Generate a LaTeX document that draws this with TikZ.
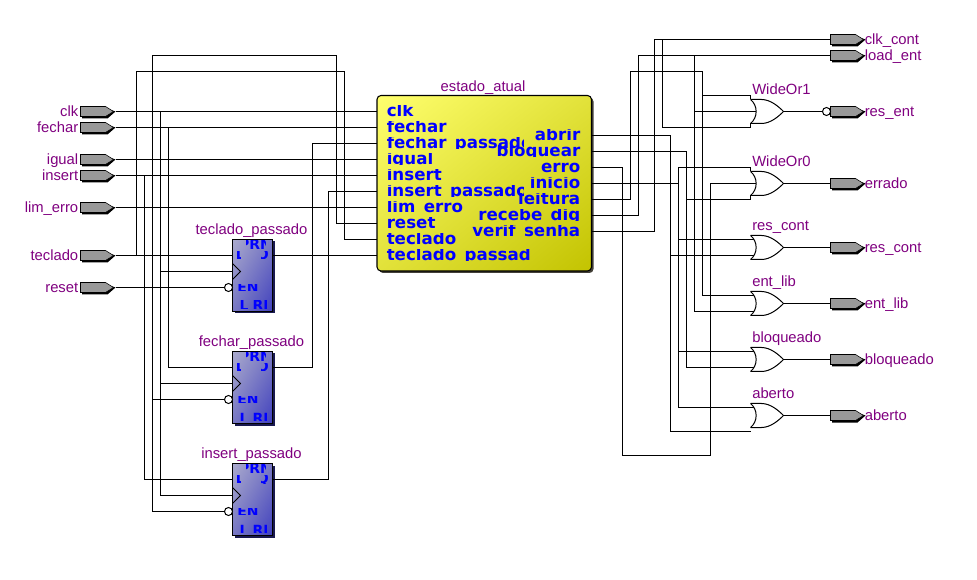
\documentclass[tikz,border=0pt]{standalone}
\usetikzlibrary{shadings}
\usepackage{fontspec}
\setmainfont{Liberation Sans}
\newfontfamily\pinfam{DejaVu Sans}[BoldFont={DejaVu Sans Bold}]
\definecolor{lab}{RGB}{128,0,128}
\definecolor{pinblue}{RGB}{0,0,255}
\definecolor{portgray}{RGB}{153,153,153}
\definecolor{yA}{RGB}{255,255,110}
\definecolor{yM}{RGB}{226,226,58}
\definecolor{yB}{RGB}{195,195,0}
\definecolor{fA}{RGB}{170,170,205}
\definecolor{fM}{RGB}{120,120,195}
\definecolor{fB}{RGB}{65,65,190}
\definecolor{fS}{RGB}{25,25,80}
\tikzset{
  wire/.style={draw=black,line width=0.8pt},
  gateline/.style={draw=black,line width=0.75pt},
  labeltxt/.style={text=lab,inner sep=0pt,font=\fontsize{11.1}{13}\selectfont},
  pinbig/.style={text=pinblue,inner sep=0pt,font=\fontsize{12.5}{13}\selectfont\pinfam\bfseries},
  pinsmall/.style={text=pinblue,inner sep=0pt,font=\fontsize{10.5}{11}\selectfont\pinfam\bfseries},
  bubble/.style={circle,draw=black,fill=white,line width=0.75pt,inner sep=0pt,minimum size=6pt},
}
% left input port: name, y, text
\newcommand\portL[3]{%
  \fill[black] (81.5,#2-3) -- (106,#2-3) -- (115,#2) -- (107,#2+7) -- (81.5,#2+7) -- cycle;
  \filldraw[fill=portgray,draw=black,line width=0.4pt] (80,#2-5) -- (105,#2-5) -- (113,#2) -- (105,#2+5) -- (80,#2+5) -- cycle;
  \coordinate (#1) at (115,#2);
  \node[labeltxt,anchor=base east] (#1-l) at (78,#2+5) {#3};
}
% right output port: name, y, text
\newcommand\portR[3]{%
  \fill[black] (831.5,#2-3) -- (856,#2-3) -- (865,#2) -- (857,#2+7) -- (831.5,#2+7) -- cycle;
  \filldraw[fill=portgray,draw=black,line width=0.4pt] (830,#2-5) -- (855,#2-5) -- (863,#2) -- (855,#2+5) -- (830,#2+5) -- cycle;
  \coordinate (#1) at (830,#2);
  \node[labeltxt,anchor=base west] (#1-l) at (864,#2+5) {#3};
}
% main block pins
\newcommand\pinL[4]{%
  \begin{scope}\clip (386,#2-5.5) rectangle (#4,#2+5);
  \node[pinbig,anchor=base west] (#1) at (386,#2+5) {#3};\end{scope}
  \coordinate (#1-p) at (376,#2);
}
\newcommand\pinR[3]{%
  \begin{scope}\clip (440,#2-5.5) rectangle (581,#2+5);
  \node[pinbig,anchor=base east] (#1) at (580,#2+5) {#3};\end{scope}
  \coordinate (#1-p) at (591,#2);
}
% flip flop: name, top y, title
\newcommand\dff[3]{%
  \fill[fS] (234,#2+2) rectangle (274,#2+74);
  \shade[upper left=fA,upper right=fM,lower left=fM,lower right=fB] (232,#2) rectangle (272,#2+72);
  \draw[black,line width=0.75pt] (232,#2) rectangle (272,#2+72);
  \draw[black,line width=0.75pt] (232,#2+24) -- (240,#2+32) -- (232,#2+40);
  \begin{scope}\clip (246,#2+1) rectangle (264.5,#2+9);
    \node[pinsmall,anchor=base] (#1-prn) at (255,#2+10) {PRN};\end{scope}
  \begin{scope}\clip (236,#2+12) rectangle (240,#2+19.5);
    \node[pinsmall,anchor=base west] (#1-d) at (235,#2+20) {D};\end{scope}
  \begin{scope}\clip (261,#2+12) rectangle (268,#2+19.5);
    \node[pinsmall,anchor=base east] (#1-q) at (268.5,#2+20) {Q};\end{scope}
  \begin{scope}\clip (237,#2+45) rectangle (257,#2+51);
    \node[pinsmall,anchor=base west] (#1-ena) at (236.5,#2+53) {ENA};\end{scope}
  \begin{scope}\clip (240,#2+61) rectangle (266,#2+69);
    \node[pinsmall,anchor=base west] (#1-clr) at (228.7,#2+71.5) {CL\kern3ptRN};\end{scope}
  \node[labeltxt,anchor=base] (#1-l) at (251,#2-5) {#3};
  \node[bubble] (#1-b) at (228,#2+48) {};
  \coordinate (#1-D) at (232,#2+16);
  \coordinate (#1-C) at (232,#2+32);
  \coordinate (#1-Q) at (272,#2+16);
}
% OR gate: name, cy, title
\newcommand\orgate[3]{%
  \draw[gateline] (750,#2-12) .. controls (757.5,#2-6) and (757.5,#2+6) .. (750,#2+12);
  \draw[gateline] (750,#2-12) -- (761,#2-12) .. controls (770,#2-12) and (778,#2-5) .. (783,#2)
     .. controls (778,#2+5) and (770,#2+12) .. (761,#2+12) -- (750,#2+12);
  \coordinate (#1-o) at (783,#2);
  \coordinate (#1-a) at (753.6,#2-8);
  \coordinate (#1-b) at (753.6,#2+8);
  \coordinate (#1-t) at (750,#2-16);
  \coordinate (#1-m) at (755.6,#2);
  \coordinate (#1-u) at (750,#2+16);
  \node[labeltxt,anchor=base west] (#1-l) at (751.5,#2-17) {#3};
}
\begin{document}
\begin{tikzpicture}[x=0.75pt,y=-0.75pt]
\useasboundingbox[fill=white] (0,0) rectangle (977,580);
\begin{scope}[shift={(0.5,0.5)}]
% main block
\fill[black!85!yellow,rounded corners=3pt] (378.5,97) rectangle (593,272.5);
\shade[rounded corners=3pt,upper left=yA,upper right=yM,lower left=yM,lower right=yB] (376.5,95) rectangle (591,270.5);
\draw[black,line width=0.8pt,rounded corners=3pt] (376.5,95) rectangle (591,270.5);
\node[labeltxt,anchor=base] (mainlabel) at (482.5,91) {estado\_atual};
\pinL{iclk}{111}{clk}{530}
\pinL{ifechar}{127}{fechar}{530}
\pinL{ifpass}{143}{fechar\_passado}{522.7}
\pinL{iigual}{159}{igual}{530}
\pinL{iinsert}{175}{insert}{530}
\pinL{iipass}{191}{insert\_passado}{522.7}
\pinL{ilim}{207}{lim\_erro}{530}
\pinL{ireset}{223}{reset}{530}
\pinL{iteclado}{239}{teclado}{530}
\pinL{itpass}{255}{teclado\_passado}{530}
\pinR{oabrir}{135}{abrir}
\pinR{obloq}{151}{bloquear}
\pinR{oerro}{167}{erro}
\pinR{oinicio}{183}{inicio}
\pinR{oleit}{199}{leitura}
\pinR{orec}{215}{recebe\_dig}
\pinR{over}{231}{verif\_senha}
% ports
\portL{pclk}{111}{clk}
\portL{pfechar}{127}{fechar}
\portL{pigual}{159}{igual}
\portL{pinsert}{175}{insert}
\portL{plim}{207}{lim\_erro}
\portL{pteclado}{255}{teclado}
\portL{preset}{287}{reset}
\portR{qclk}{39}{clk\_cont}
\portR{qload}{55}{load\_ent}
\portR{qres}{111}{res\_ent}
\portR{qerr}{183}{errado}
\portR{qcont}{247}{res\_cont}
\portR{qlib}{303}{ent\_lib}
\portR{qblo}{359}{bloqueado}
\portR{qabe}{415}{aberto}
% flip flops
\dff{ffa}{239}{teclado\_passado}
\dff{ffb}{351}{fechar\_passado}
\dff{ffc}{463}{insert\_passado}
% gates
\orgate{g1}{111}{WideOr1}
\orgate{g0}{183}{WideOr0}
\orgate{gc}{247}{res\_cont}
\orgate{gl}{303}{ent\_lib}
\orgate{gb}{359}{bloqueado}
\orgate{ga}{415}{aberto}
\node[bubble] (qresb) at (826,111) {};
% left wires
\draw[wire] (pclk) -- (iclk-p);
\draw[wire] (pfechar) -- (ifechar-p);
\draw[wire] (pigual) -- (iigual-p);
\draw[wire] (pinsert) -- (iinsert-p);
\draw[wire] (plim) -- (ilim-p);
\draw[wire] (pteclado) -- (ffa-D);
\draw[wire] (preset) -- (ffa-b);
\draw[wire] (136,255) -- (136,71) -- (344,71) -- (344,239) -- (iteclado-p);
\draw[wire] (152,511) -- (152,55) -- (336,55) -- (336,223) -- (ireset-p);
\draw[wire] (152,399) -- (ffb-b);
\draw[wire] (152,511) -- (ffc-b);
\draw[wire] (160,111) |- (ffc-C);
\draw[wire] (160,271) -- (ffa-C);
\draw[wire] (160,383) -- (ffb-C);
\draw[wire] (168,127) |- (ffb-D);
\draw[wire] (144,175) |- (ffc-D);
\draw[wire] (ffa-Q) -- (itpass-p);
\draw[wire] (ffb-Q) -- (312,367) -- (312,143) -- (ifpass-p);
\draw[wire] (ffc-Q) -- (328,479) -- (328,191) -- (iipass-p);
% right wires
\draw[wire] (oabrir-p) -- (670,135) |- (ga-u);
\draw[wire] (670,255) -- (gc-b);
\draw[wire] (obloq-p) -- (686,151) |- (gb-b);
\draw[wire] (686,199) -- (g0-u);
\draw[wire] (oerro-p) -- (622,167) -- (622,455) -- (710,455) -- (710,183) -- (g0-m);
\draw[wire] (oinicio-p) -- (678,183);
\draw[wire] (g0-t) -- (678,167) |- (ga-a);
\draw[wire] (678,239) -- (gc-a);
\draw[wire] (678,351) -- (gb-a);
\draw[wire] (oleit-p) -- (630,199) -- (630,71) -- (702,71) |- (gl-a);
\draw[wire] (702,95) -- (g1-t);
\draw[wire] (orec-p) -- (638,215) -- (638,55) -- (qload);
\draw[wire] (694,55) |- (gl-b);
\draw[wire] (694,111) -- (g1-m);
\draw[wire] (over-p) -- (654,231) -- (654,39) -- (qclk);
\draw[wire] (662,39) |- (g1-u);
% gate outputs
\draw[wire] (g1-o) -- (qresb);
\draw[wire] (g0-o) -- (qerr);
\draw[wire] (gc-o) -- (qcont);
\draw[wire] (gl-o) -- (qlib);
\draw[wire] (gb-o) -- (qblo);
\draw[wire] (ga-o) -- (qabe);
% gate stubs
\draw[gateline] (g1-t) -- (750,99);
\draw[gateline] (g1-u) -- (750,123);
\draw[gateline] (g0-t) -- (750,171);
\draw[gateline] (g0-u) -- (750,195);
\end{scope}
\end{tikzpicture}
\end{document}
